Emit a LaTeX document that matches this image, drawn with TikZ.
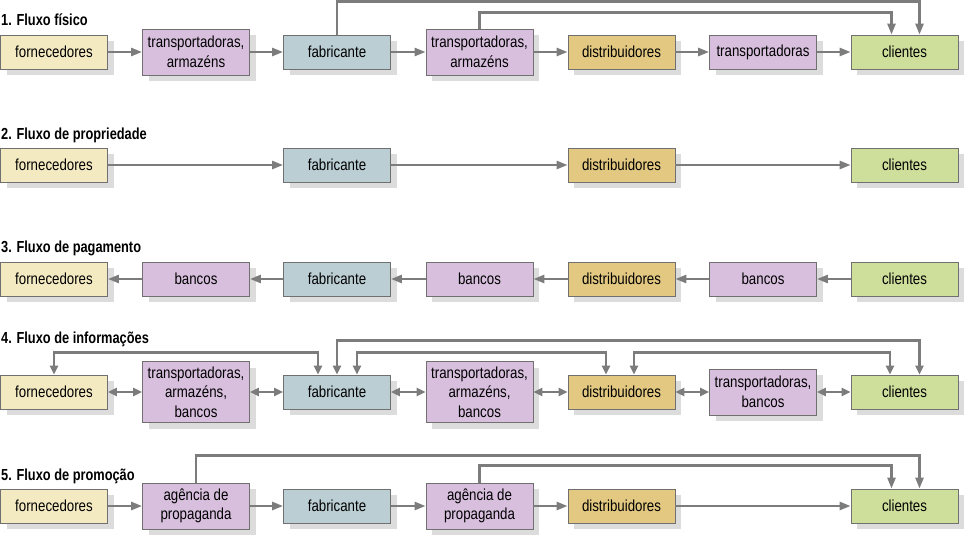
\documentclass[tikz,border=0pt]{standalone}
\usepackage{fontspec}
\setmainfont{Liberation Sans}
\newfontfamily\nodefont[FakeStretch=0.83]{Liberation Sans}
\newfontfamily\ttlfont[FakeStretch=0.80]{Liberation Sans}
\usetikzlibrary{arrows.meta,shadows}
\definecolor{cforn}{HTML}{F4EAC2}
\definecolor{ctrans}{HTML}{D8BFDE}
\definecolor{cfab}{HTML}{BACED4}
\definecolor{cdist}{HTML}{E2C880}
\definecolor{ccli}{HTML}{CEDE9B}
\definecolor{cborder}{HTML}{707070}
\definecolor{carrow}{HTML}{7C7C7C}
\definecolor{cshadow}{HTML}{DCDCDC}
\begin{document}
\begin{tikzpicture}[x=1pt,y=-1pt,
  box/.style={draw=cborder, line width=0.8pt, minimum width=107pt, minimum height=34pt,
    inner sep=0pt, align=center, font={\nodefont\fontsize{16}{19.5}\selectfont},
    drop shadow={shadow xshift=6pt, shadow yshift=-6pt, fill=cshadow, opacity=1}},
  forn/.style={box, fill=cforn},
  trans/.style={box, fill=ctrans},
  fab/.style={box, fill=cfab},
  dist/.style={box, fill=cdist},
  cli/.style={box, fill=ccli},
  ttl/.style={anchor=base west, inner sep=0pt, font={\ttlfont\bfseries\fontsize{16}{19}\selectfont}},
  arr/.style={draw=carrow, line width=2.5pt, -{Triangle[length=11pt,width=8pt]}},
  arrl/.style={draw=carrow, line width=2.5pt, -{Triangle[length=11pt,width=8pt]}},
  dbl/.style={draw=carrow, line width=2.5pt, {Triangle[length=9pt,width=8pt]}-{Triangle[length=9pt,width=8pt]}}
]
\useasboundingbox (0,0) rectangle (965,535);

% ---------- Row 1 ----------
\node[ttl] (t1) at (1,26) {1. Fluxo físico};
\node[forn]  (A1) at (54,52)    {fornecedores};
\node[trans, minimum height=46pt] (B1) at (196,52) {transportadoras,\\armazéns};
\node[fab]   (C1) at (337,52)   {fabricante};
\node[trans, minimum height=46pt] (D1) at (479.5,52) {transportadoras,\\armazéns};
\node[dist]  (E1) at (621.5,52) {distribuidores};
\node[trans] (F1) at (763,52)   {transportadoras};
\node[cli]   (G1) at (904.5,52) {clientes};
\draw[arr] (A1) -- (B1);
\draw[arr] (B1) -- (C1);
\draw[arr] (C1) -- (D1);
\draw[arr] (D1) -- (E1);
\draw[arr] (E1) -- (F1);
\draw[arr] (F1) -- (G1);
\draw[arr] (C1.north) -- ++(0,-33) -| ([xshift=15pt]G1.north);
\draw[arr] (D1.north) -- ++(0,-16) -| ([xshift=-13pt]G1.north);

% ---------- Row 2 ----------
\node[ttl] (t2) at (1,139) {2. Fluxo de propriedade};
\node[forn] (A2) at (54,165)    {fornecedores};
\node[fab]  (C2) at (337,165)   {fabricante};
\node[dist] (E2) at (621.5,165) {distribuidores};
\node[cli]  (G2) at (904.5,165) {clientes};
\draw[arr] (A2) -- (C2);
\draw[arr] (C2) -- (E2);
\draw[arr] (E2) -- (G2);

% ---------- Row 3 ----------
\node[ttl] (t3) at (1,252) {3. Fluxo de pagamento};
\node[forn]  (A3) at (54,279)    {fornecedores};
\node[trans] (B3) at (196,279)   {bancos};
\node[fab]   (C3) at (337,279)   {fabricante};
\node[trans] (D3) at (479.5,279) {bancos};
\node[dist]  (E3) at (621.5,279) {distribuidores};
\node[trans] (F3) at (763,279)   {bancos};
\node[cli]   (G3) at (904.5,279) {clientes};
\draw[arrl] (G3) -- (F3);
\draw[arrl] (F3) -- (E3);
\draw[arrl] (E3) -- (D3);
\draw[arrl] (D3) -- (C3);
\draw[arrl] (C3) -- (B3);
\draw[arrl] (B3) -- (A3);

% ---------- Row 4 ----------
\node[ttl] (t4) at (1,343) {4. Fluxo de informações};
\node[forn]  (A4) at (54,392)    {fornecedores};
\node[trans, minimum height=61pt] (B4) at (196,392) {transportadoras,\\armazéns,\\bancos};
\node[fab]   (C4) at (337,392)   {fabricante};
\node[trans, minimum height=61pt] (D4) at (479.5,392) {transportadoras,\\armazéns,\\bancos};
\node[dist]  (E4) at (621.5,392) {distribuidores};
\node[trans, minimum height=46pt] (F4) at (763,392) {transportadoras,\\bancos};
\node[cli]   (G4) at (904.5,392) {clientes};
\draw[dbl] (A4) -- (B4);
\draw[dbl] (B4) -- (C4);
\draw[dbl] (C4) -- (D4);
\draw[dbl] (D4) -- (E4);
\draw[dbl] (E4) -- (F4);
\draw[dbl] (F4) -- (G4);
\draw[dbl] (A4.north) -- ++(0,-22) -| ([xshift=-19pt]C4.north);
\draw[dbl] (C4.north) -- ++(0,-34) -| ([xshift=15pt]G4.north);
\draw[dbl] ([xshift=20pt]C4.north) -- ++(0,-22) -| ([xshift=-15.5pt]E4.north);
\draw[dbl] ([xshift=12.5pt]E4.north) -- ++(0,-22) -| ([xshift=-14.5pt]G4.north);

% ---------- Row 5 ----------
\node[ttl] (t5) at (1,480) {5. Fluxo de promoção};
\node[forn]  (A5) at (54,506)    {fornecedores};
\node[trans, minimum height=46pt] (B5) at (196,506) {agência de\\propaganda};
\node[fab]   (C5) at (337,506)   {fabricante};
\node[trans, minimum height=46pt] (D5) at (479.5,506) {agência de\\propaganda};
\node[dist]  (E5) at (621.5,506) {distribuidores};
\node[cli]   (G5) at (904.5,506) {clientes};
\draw[arr] (A5) -- (B5);
\draw[arr] (B5) -- (C5);
\draw[arr] (C5) -- (D5);
\draw[arr] (D5) -- (E5);
\draw[arr] (E5) -- (G5);
\draw[arr] (B5.north) -- ++(0,-27) -| ([xshift=15pt]G5.north);
\draw[arr] (D5.north) -- ++(0,-17) -| ([xshift=-13pt]G5.north);
\end{tikzpicture}
\end{document}
